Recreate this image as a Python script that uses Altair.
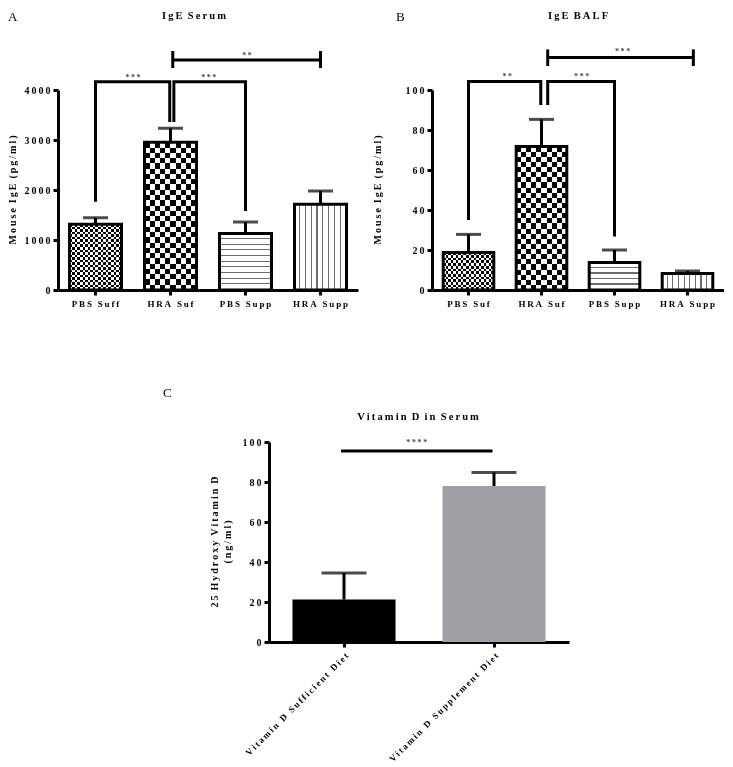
import altair as alt
import pandas as pd

FONT = "Liberation Serif"
THIN = "\u2009"
GAP = "\u00a0\u00a0"


def sp(s):
    return GAP.join(THIN.join(w) for w in s.split(" "))


SPACED = "join(split(datum.label, ''), '\u2009')"

# ---------------- Panel A : IgE Serum ----------------
A_cats = ["PBS Suff", "HRA Suf", "PBS Supp", "HRA Supp"]
A_mean = [1315, 2955, 1130, 1715]
A_sem = [130, 280, 230, 265]
A_ticks = [0, 1000, 2000, 3000, 4000]
A_ymax = 4000
# significance brackets (x in category units, centre of group i = i + 0.5)
A_br_xl = [0.5, 1.545]
A_br_xr = [1.49, 2.5]
A_br_top = [4166, 4166]
A_br_yl = [1766, 3360]
A_br_yr = [3360, 1580]
A_cl_xl = [1.53]
A_cl_xr = [3.5]
A_cl_y = [4600]
A_cl_lo = [4440]
A_cl_hi = [4780]
A_star_txt = ["***", "***", "**"]
A_star_x = [1.0, 2.01, 2.52]
A_star_y = [4250, 4250, 4680]

# ---------------- Panel B : IgE BALF ----------------
B_cats = ["PBS Suf", "HRA Suf", "PBS Supp", "HRA Supp"]
B_mean = [18.8, 71.7, 13.7, 8.3]
B_sem = [9.0, 13.6, 6.3, 1.2]
B_ticks = [0, 20, 40, 60, 80, 100]
B_ymax = 100
B_br_xl = [0.5, 1.585]
B_br_xr = [1.49, 2.5]
B_br_top = [104.2, 104.2]
B_br_yl = [35, 92.5]
B_br_yr = [92.5, 26.7]
B_cl_xl = [1.585]
B_cl_xr = [3.58]
B_cl_y = [116.3]
B_cl_lo = [112]
B_cl_hi = [120.3]
B_star_txt = ["**", "***", "***"]
B_star_x = [1.03, 2.05, 2.61]
B_star_y = [106.6, 106.6, 118.8]

# ---------------- Panel C : Vitamin D in Serum ----------------
C_cats = ["Vitamin D Sufficient Diet", "Vitamin D Supplement Diet"]
C_mean = [21.2, 78.0]
C_sem = [13.3, 6.8]
C_ticks = [0, 20, 40, 60, 80, 100]
C_ymax = 100
C_colors = ["#000000", "#a09fa5"]
C_ln_xl = [0.48]
C_ln_xr = [1.49]
C_ln_y = [95.5]
C_star_txt = ["****"]
C_star_x = [0.985]
C_star_y = [99.6]

PATTERNS = ["fine", "checker", "hlines", "vlines"]

W_A = 300
W_B = 292
H = 200
C_LEFT = 211  # left offset of panel C plot inside its (wider) view


def stripe_stops(n, c_off, c_on, on_frac):
    stops = []
    for k in range(n):
        a = k / n
        b = (k + 1) / n
        m = b - on_frac / n
        stops += [alt.GradientStop(offset=a, color=c_off), alt.GradientStop(offset=m, color=c_off),
                  alt.GradientStop(offset=m, color=c_on), alt.GradientStop(offset=b, color=c_on)]
    return stops


def grad(stops, along_x):
    if along_x:
        return alt.LinearGradient(gradient="linear", stops=stops, x1=0, x2=1, y1=0, y2=0)
    return alt.LinearGradient(gradient="linear", stops=stops, x1=0, x2=0, y1=0, y2=1)


def axis_common(**kw):
    base = dict(domainColor="black", domainWidth=3, tickColor="black", tickWidth=3, tickSize=5,
                labelFont=FONT, labelFontSize=10, labelFontWeight="bold", labelColor="black",
                labelExpr=SPACED, grid=False, title=None)
    base.update(kw)
    return alt.Axis(**base)


def text_layer(txt, x, y, size=10, weight="bold", angle=0, align="center", baseline="middle", color="black"):
    return alt.Chart(pd.DataFrame({"t": [txt]})).mark_text(
        font=FONT, fontSize=size, fontWeight=weight, angle=angle, align=align, baseline=baseline, color=color
    ).encode(text="t:N", x=alt.value(x), y=alt.value(y))


def bar_panel(cats, means, sems, ticks, ymax, br, cl, stars, title, title_x, letter, letter_x, ytitle, ytitle_x, W):
    df = pd.DataFrame({"cat": cats, "mean": means, "sem": sems})
    df["top"] = df["mean"] + df["sem"]
    n = len(cats)
    pin = 0.307
    xscale = alt.Scale(domain=cats, paddingInner=pin, paddingOuter=pin / 2)
    yscale = alt.Scale(domain=[0, ymax], nice=False)
    yaxis = axis_common(values=ticks, labelPadding=3, format="d")

    def Y(f):
        return alt.Y(f, scale=yscale, axis=yaxis)

    x_noaxis = alt.X("cat:N", sort=cats, scale=xscale, axis=None)
    bw = W / n * (1 - pin)
    layers = []
    for i, (c, pat) in enumerate(zip(cats, PATTERNS)):
        h = means[i] / ymax * H
        sub = alt.Chart(df).transform_filter(alt.datum.cat == c)
        if pat in ("fine", "checker"):
            cell = 2.6 if pat == "fine" else 5.2
            nx = max(1, round(bw / cell / 2))
            ny = max(1, round(h / cell / 2))
            g1 = grad(stripe_stops(nx, "white", "black", 0.5), True)
            g2 = grad(stripe_stops(ny, "white", "black", 0.5), False)
            layers.append(sub.mark_bar(fill=g1, strokeWidth=0).encode(x=x_noaxis, y=Y("mean:Q")))
            layers.append(sub.mark_bar(fill=g2, strokeWidth=0, blend="difference").encode(x=x_noaxis, y=Y("mean:Q")))
        elif pat == "hlines":
            ny = max(1, round(h / 5.7))
            g = grad(stripe_stops(ny, "white", "#6e6e6e", 0.2), False)
            layers.append(sub.mark_bar(fill=g, strokeWidth=0).encode(x=x_noaxis, y=Y("mean:Q")))
        else:
            nx = max(1, round(bw / 5.8))
            g = grad(stripe_stops(nx, "white", "#6e6e6e", 0.2), True)
            layers.append(sub.mark_bar(fill=g, strokeWidth=0).encode(x=x_noaxis, y=Y("mean:Q")))
    base = alt.Chart(df)
    layers.append(base.mark_rule(color="black", strokeWidth=3).encode(x=x_noaxis, y=Y("mean:Q"), y2="top:Q"))
    layers.append(base.mark_tick(color="black", thickness=3, size=25, orient="horizontal").encode(
        x=x_noaxis, y=Y("top:Q")))
    layers.append(base.mark_bar(fillOpacity=0, stroke="black", strokeWidth=3).encode(
        x=alt.X("cat:N", sort=cats, scale=xscale,
                axis=axis_common(labelAngle=0, labelPadding=4, labelFontSize=9)),
        y=Y("mean:Q")))
    # brackets
    xl, xr, top, yl, yr = br
    rows = []
    for j in range(len(xl)):
        pts = [(xl[j], yl[j]), (xl[j], top[j]), (xr[j], top[j]), (xr[j], yr[j])]
        for k, (px, py) in enumerate(pts):
            rows.append({"b": j, "k": k, "x": px, "y": py})
    bdf = pd.DataFrame(rows)
    qx = alt.Scale(domain=[0, n], nice=False, zero=False)
    ax = alt.X("x:Q", scale=qx, axis=None)
    layers.append(alt.Chart(bdf).mark_line(color="black", strokeWidth=3, strokeJoin="miter").encode(
        x=ax, y=Y("y:Q"), detail="b:N", order="k:Q"))
    cxl, cxr, cy_, clo, chi = cl
    cdf_ = pd.DataFrame({"x": cxl, "x2": cxr, "y": cy_, "lo": clo, "hi": chi})
    layers.append(alt.Chart(cdf_).mark_rule(color="black", strokeWidth=3).encode(
        x=ax, x2="x2:Q", y=Y("y:Q")))
    layers.append(alt.Chart(cdf_).mark_rule(color="black", strokeWidth=3).encode(
        x=ax, y=Y("lo:Q"), y2="hi:Q"))
    layers.append(alt.Chart(cdf_).mark_rule(color="black", strokeWidth=3).encode(
        x=alt.X("x2:Q", scale=qx, axis=None), y=Y("lo:Q"), y2="hi:Q"))
    st, sx, sy = stars
    sdf = pd.DataFrame({"t": [sp(s) for s in st], "x": sx, "y": sy})
    layers.append(alt.Chart(sdf).mark_text(font=FONT, fontSize=8, fontWeight="bold", color="#444").encode(
        text="t:N", x=ax, y=Y("y:Q")))
    # titles
    layers.append(text_layer(sp(title), title_x, -74, size=10.5))
    layers.append(text_layer(letter, letter_x, -79, size=13, weight="normal", align="left", baseline="top"))
    layers.append(text_layer(sp(ytitle), ytitle_x, H / 2, size=10, angle=270))
    return alt.layer(*layers).resolve_scale(x="independent").properties(width=W, height=H)


A = bar_panel(A_cats, A_mean, A_sem, A_ticks, A_ymax,
              (A_br_xl, A_br_xr, A_br_top, A_br_yl, A_br_yr),
              (A_cl_xl, A_cl_xr, A_cl_y, A_cl_lo, A_cl_hi),
              (A_star_txt, A_star_x, A_star_y),
              "IgE Serum", 136, "A", -50, "Mouse IgE (pg/ml)", -45, W_A)
B = bar_panel(B_cats, B_mean, B_sem, B_ticks, B_ymax,
              (B_br_xl, B_br_xr, B_br_top, B_br_yl, B_br_yr),
              (B_cl_xl, B_cl_xr, B_cl_y, B_cl_lo, B_cl_hi),
              (B_star_txt, B_star_x, B_star_y),
              "IgE BALF", 146, "B", -36, "Mouse IgE (pg/ml)", -54, W_B)

# ---------------- Panel C ----------------
W = 300
cdf = pd.DataFrame({"cat": C_cats, "mean": C_mean, "sem": C_sem})
cdf["top"] = cdf["mean"] + cdf["sem"]
pinC = 0.313
crange = [C_LEFT, C_LEFT + W]
cx = alt.Scale(domain=C_cats, range=crange, paddingInner=pinC, paddingOuter=pinC / 2)
cy = alt.Scale(domain=[0, C_ymax], nice=False)
c_yaxis = axis_common(values=C_ticks, labelPadding=3, offset=-C_LEFT, format="d")


def CY(f):
    return alt.Y(f, scale=cy, axis=c_yaxis)


cbase = alt.Chart(cdf)
c_bars = cbase.mark_bar().encode(
    x=alt.X("cat:N", sort=C_cats, scale=cx,
            axis=axis_common(labelAngle=-45, labelPadding=4, labelFontSize=9)),
    y=CY("mean:Q"),
    fill=alt.Color("cat:N", scale=alt.Scale(domain=C_cats, range=C_colors), legend=None),
)
c_err = cbase.mark_rule(color="black", strokeWidth=3).encode(
    x=alt.X("cat:N", sort=C_cats, scale=cx, axis=None), y=CY("mean:Q"), y2="top:Q")
c_cap = cbase.mark_tick(color="black", thickness=3, size=45, orient="horizontal").encode(
    x=alt.X("cat:N", sort=C_cats, scale=cx, axis=None), y=CY("top:Q"))
cax = alt.X("x:Q", scale=alt.Scale(domain=[0, 2], range=crange, nice=False, zero=False), axis=None)
c_line = alt.Chart(pd.DataFrame({"x": C_ln_xl, "x2": C_ln_xr, "y": C_ln_y})).mark_rule(
    color="black", strokeWidth=3).encode(x=cax, x2="x2:Q", y=CY("y:Q"))
c_star = alt.Chart(pd.DataFrame({"t": [sp(s) for s in C_star_txt], "x": C_star_x, "y": C_star_y})).mark_text(
    font=FONT, fontSize=8, fontWeight="bold", color="#444").encode(
    text="t:N", x=cax, y=CY("y:Q"))
C = alt.layer(
    c_bars, c_err, c_cap, c_line, c_star,
    text_layer(sp("Vitamin D in Serum"), 360, -25, size=10.5),
    text_layer("C", 105, -55, size=13, weight="normal", align="left", baseline="top"),
    text_layer(sp("25 Hydroxy Vitamin D"), 157, 100, size=10, angle=270),
    text_layer(sp("(ng/ml)"), 170, 100, size=10, angle=270),
).resolve_scale(x="independent").properties(width=C_LEFT + W, height=H)

chart = alt.vconcat(alt.hconcat(A, B, spacing=15), C, spacing=79).properties(
    padding={"left": 0, "top": 3, "right": 0, "bottom": 0}
).configure(background="white").configure_view(strokeWidth=0, stroke="transparent")

chart.save("out.html", embed_options={"renderer": "svg", "actions": False})
